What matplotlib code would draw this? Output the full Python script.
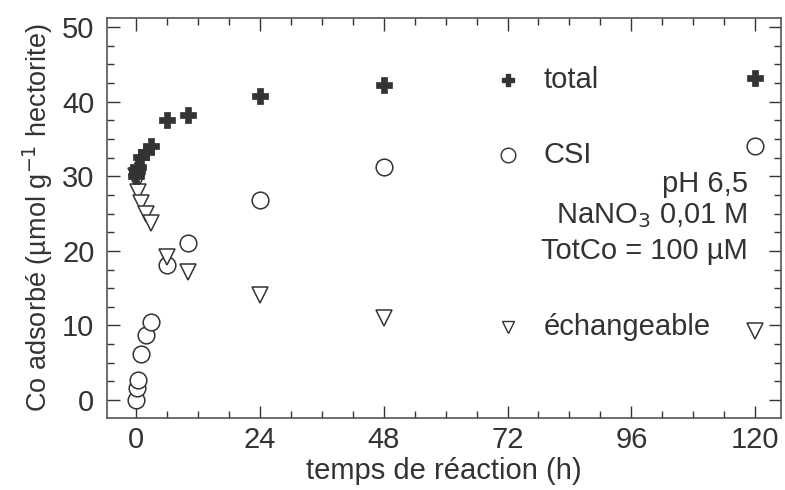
import matplotlib
matplotlib.use("Agg")
import matplotlib.pyplot as plt
from matplotlib.ticker import MultipleLocator

plt.rcParams['font.family'] = ['Liberation Sans', 'DejaVu Sans']

temps = [0, 0.25, 0.5, 1, 2, 3, 6, 10, 24, 48, 120]
total = [30.0, 30.8, 31.3, 32.6, 33.3, 34.0, 37.6, 38.2, 40.7, 42.2, 43.2]
csi = [0.0, 1.6, 2.7, 6.2, 8.7, 10.4, 18.1, 21.0, 26.8, 31.2, 34.0]
echangeable = [30.0, 29.2, 27.9, 26.4, 25.0, 23.7, 19.2, 17.2, 14.1, 11.0, 9.3]

xticks = [0, 24, 48, 72, 96, 120]
yticks = [0, 10, 20, 30, 40, 50]

ink = '#333333'
fig = plt.figure(figsize=(7.85, 4.9), dpi=100)
ax = fig.add_axes([0.1363, 0.147, 0.995 - 0.1363, 0.963 - 0.147])

ax.plot(temps, csi, linestyle='none', marker='o', markersize=12, markerfacecolor='white',
        markeredgecolor=ink, markeredgewidth=1.1, zorder=3)
ax.plot(temps, echangeable, linestyle='none', marker='v', markersize=12, markerfacecolor='white',
        markeredgecolor=ink, markeredgewidth=1.1, zorder=4)
ax.plot(temps, total, linestyle='none', marker='P', markersize=12, markerfacecolor=ink,
        markeredgecolor=ink, markeredgewidth=0.5, zorder=5)

# legend-like labels
lx = 72
ax.plot([lx], [42.9], marker='P', markersize=9, color=ink, linestyle='none')
ax.plot([lx], [32.8], marker='o', markersize=10.5, markerfacecolor='white', markeredgecolor=ink,
        markeredgewidth=1.0, linestyle='none')
ax.plot([lx], [9.8], marker='v', markersize=9, markerfacecolor='white', markeredgecolor=ink,
        markeredgewidth=1.0, linestyle='none')
fs = 21
ax.text(79, 42.9, 'total', fontsize=fs, color=ink, va='center', ha='left')
ax.text(79, 32.8, 'CSI', fontsize=fs, color=ink, va='center', ha='left')
ax.text(79, 9.8, 'échangeable', fontsize=fs, color=ink, va='center', ha='left')
ax.text(118.5, 29.0, 'pH 6,5', fontsize=fs, color=ink, va='center', ha='right')
ax.text(118.5, 24.7, 'NaNO$_3$ 0,01 M', fontsize=fs, color=ink, va='center', ha='right')
ax.text(118.5, 20.0, 'TotCo = 100 µM', fontsize=fs, color=ink, va='center', ha='right')

ax.set_xlim(-5.6, 125)
ax.set_ylim(-2.4, 51.2)
ax.set_xticks(xticks)
ax.set_yticks(yticks)
ax.xaxis.set_minor_locator(MultipleLocator(6))
ax.yaxis.set_minor_locator(MultipleLocator(2.5))
ax.tick_params(which='both', direction='in', top=True, right=True, colors=ink,
               labelsize=21, width=1.0)
ax.tick_params(which='major', length=9)
ax.tick_params(which='minor', length=5)
ax.tick_params(axis='y', which='major', pad=9)
ax.tick_params(axis='x', which='major', pad=6)
for s in ax.spines.values():
    s.set_color('#555555')
    s.set_linewidth(1.2)

ax.set_xlabel('temps de réaction (h)', fontsize=21, color=ink, labelpad=2)
ax.set_ylabel('Co adsorbé (µmol g$^{-1}$ hectorite)', fontsize=19.5, color=ink, labelpad=5)

fig.savefig('out.png', dpi=100)
